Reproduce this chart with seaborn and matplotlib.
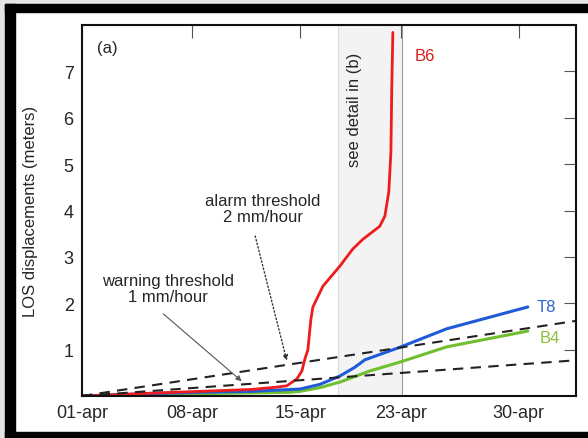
#Displacement time series with alarm / warning thresholds
import numpy as np
import pandas as pd
import matplotlib
matplotlib.use('Agg')
import matplotlib.pyplot as plt
from matplotlib.patches import Rectangle
import seaborn as sns

sns.set_style('white')
plt.rcParams['font.family'] = ['Liberation Sans', 'DejaVu Sans']

#Data (x = days since 01-apr)
tick_days = [0.0, 7.3, 14.5, 21.2, 29.0]
tick_labels = ['01-apr', '08-apr', '15-apr', '23-apr', '30-apr']

b6_days = [0, 4.5, 7.8, 11.2, 12.9, 13.6, 14.27, 14.6, 14.8, 15.0, 15.13, 15.2, 15.33,
           16.0, 17.12, 17.98, 18.65, 19.77, 20.11, 20.37, 20.51, 20.57, 20.64]
b6_disp = [0, 0.06, 0.1, 0.14, 0.19, 0.22, 0.37, 0.54, 0.8, 1.0, 1.44, 1.66, 1.92,
           2.37, 2.8, 3.17, 3.38, 3.66, 3.88, 4.4, 5.26, 6.68, 7.84]

t8_days = [0, 4.5, 7.8, 11.2, 14.47, 15.79, 17.12, 18.12, 18.78, 21.1, 24.22, 29.6]
t8_disp = [0, 0.05, 0.08, 0.1, 0.15, 0.25, 0.43, 0.62, 0.78, 1.05, 1.45, 1.92]

b4_days = [0, 7.8, 13.8, 14.47, 15.79, 17.12, 19.11, 21.1, 24.22, 29.6]
b4_disp = [0, 0.05, 0.08, 0.1, 0.18, 0.3, 0.54, 0.73, 1.06, 1.4]

thr_days = [0, 32.8]
alarm_thr = [0, 1.62]    # 2 mm/hour
warning_thr = [0, 0.77]  # 1 mm/hour

detail_span = [17.0, 21.23]

fig = plt.figure(figsize=(5.88, 4.39), dpi=100)
fig.patch.set_facecolor('white')
ax = fig.add_axes([82/588, 1 - 397/439, (576 - 82)/588, (397 - 26)/439])

#Grey band for the detail window
ax.axvspan(detail_span[0], detail_span[1], color='#f3f3f3', zorder=0, lw=0)
ax.axvline(detail_span[0], color='#dedede', lw=0.8, zorder=0.5)
ax.axvline(detail_span[1], color='#9a9a9a', lw=0.8, zorder=0.5)

#Displacement curves
sns.lineplot(x=b4_days, y=b4_disp, ax=ax, color='#6fbf2f', lw=2.2)
sns.lineplot(x=t8_days, y=t8_disp, ax=ax, color='#1f5bd8', lw=2.2)
sns.lineplot(x=b6_days, y=b6_disp, ax=ax, color='#ee1c1c', lw=2.0)

#Threshold lines
sns.lineplot(x=thr_days, y=alarm_thr, ax=ax, color='#222222', lw=1.5, linestyle=(0, (5, 3.5)))
sns.lineplot(x=thr_days, y=warning_thr, ax=ax, color='#222222', lw=1.5, linestyle=(0, (5, 3.5)))

#Labels on the plot
ax.text(1.66, 7.52, '(a)', fontsize=12, ha='center', va='center')
ax.text(22.76, 7.34, 'B6', fontsize=12, ha='center', va='center', color='#d8201c')
ax.text(30.86, 1.94, 'T8', fontsize=12, ha='center', va='center', color='#2f63d0')
ax.text(31.05, 1.27, 'B4', fontsize=12, ha='center', va='center', color='#8cc03c')
ax.text(18.1, 6.2, 'see detail in (b)', fontsize=12, rotation=90, ha='center', va='center')

#Threshold annotations (text and arrow drawn separately so the arrow starts under the text)
ax.text(12.0, 4.04, 'alarm threshold\n2 mm/hour', fontsize=12, ha='center', va='center',
        linespacing=1.1)
ax.annotate('', xy=(13.6, 0.76), xytext=(11.5, 3.45),
            arrowprops=dict(arrowstyle='-|>', linestyle=':', lw=1.0, color='#333333',
                            shrinkA=0, shrinkB=0, mutation_scale=8))
ax.text(5.71, 2.31, 'warning threshold\n1 mm/hour', fontsize=12, ha='center', va='center',
        linespacing=1.1)
ax.annotate('', xy=(10.6, 0.32), xytext=(5.4, 1.77),
            arrowprops=dict(arrowstyle='-|>', lw=0.8, color='#555555',
                            shrinkA=0, shrinkB=0, mutation_scale=8))

#Axes styling
ax.set_xlim(0, 32.8)
ax.set_ylim(0, 8)
ax.set_xticks(tick_days)
ax.set_xticklabels(tick_labels)
ax.set_yticks([1, 2, 3, 4, 5, 6, 7])
ax.tick_params(direction='in', top=True, right=True, length=9, width=0.8,
               color='#555555', labelsize=13, pad=6)
for s in ax.spines.values():
    s.set_linewidth(1.5)
    s.set_color('#111111')
ax.set_ylabel('LOS displacements (meters)', fontsize=12)
ax.yaxis.set_label_coords((38 - 82)/494, 0.5)

#Outer black frame (top, left, bottom)
W, H = 588, 439
def frame(x0, y0, x1, y1, c):
    fig.patches.append(Rectangle((x0/W, 1 - y1/H), (x1 - x0)/W, (y1 - y0)/H,
                                 transform=fig.transFigure, color=c, zorder=10))
frame(0, 0, W, 5, '#e4e4e4')
frame(0, 0, 5, H, '#e4e4e4')
frame(5, 5, W, 13, 'black')
frame(5, 5, 15, H, 'black')
frame(5, 433, W, H, 'black')

fig.savefig('out.png', dpi=100)
